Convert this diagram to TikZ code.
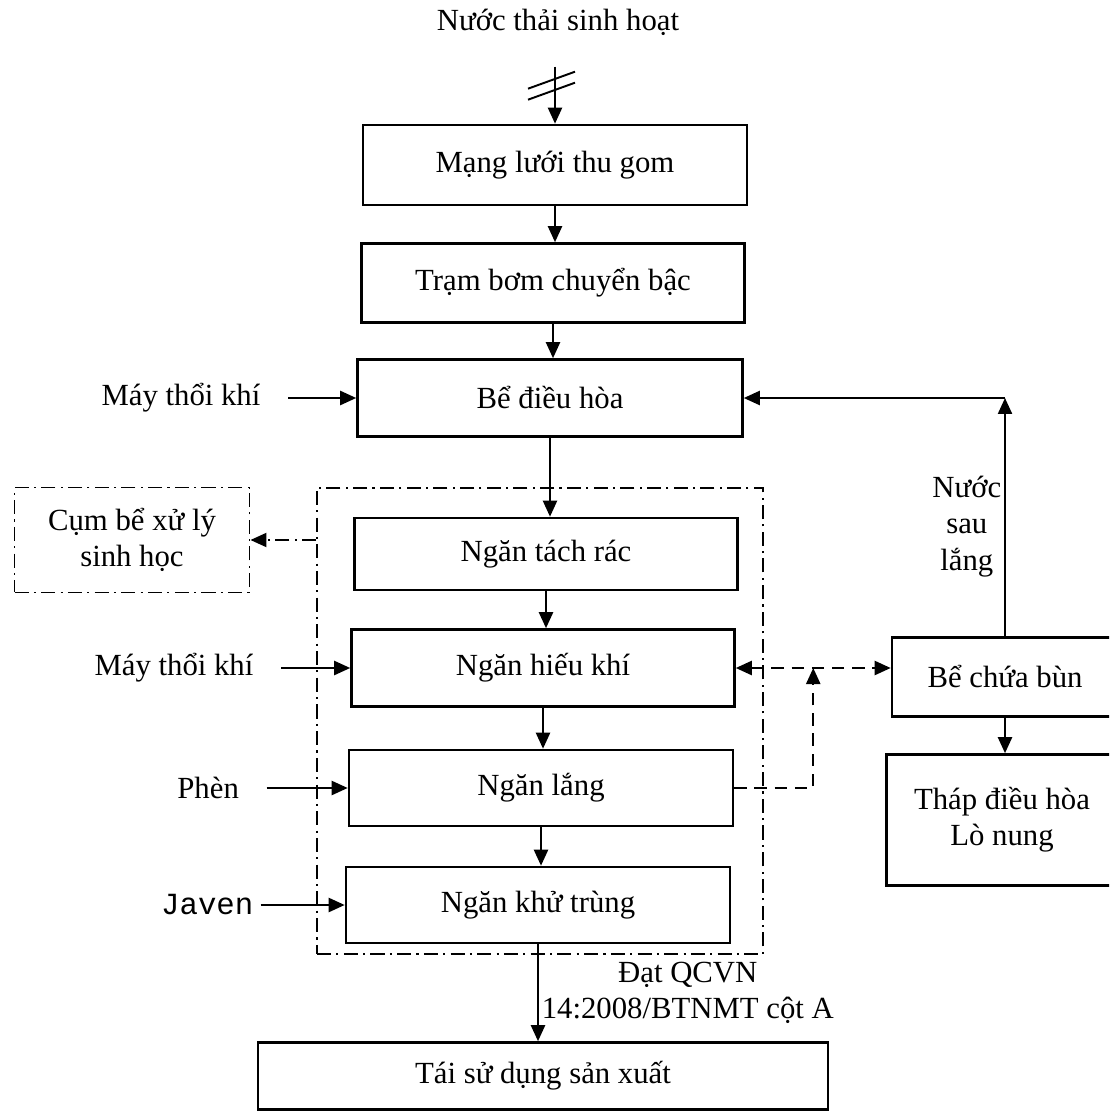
\documentclass[tikz,border=0pt]{standalone}
\usepackage{fontspec}
\setmainfont{Liberation Serif}
\setmonofont{Liberation Mono}
\usetikzlibrary{arrows.meta, positioning, calc}

\begin{document}
\begin{tikzpicture}[x=0.02cm, y=-0.02cm,
    >={Triangle[length=3.2mm, width=2.8mm]},
    box/.style={draw, line width=1.5pt, align=center, inner sep=0pt,
                font=\fontsize{17.5}{20.5}\selectfont},
    zone/.style={draw, line width=1.1pt, dash pattern=on 8pt off 3pt on 1.2pt off 3pt},
    feed/.style={font=\fontsize{17.5}{20.5}\selectfont, inner ysep=0pt, inner xsep=0.55cm},
    lbl/.style={font=\fontsize{17.5}{20.5}\selectfont, align=center, inner sep=1.5pt},
    arrow/.style={->, line width=1.3pt},
    dasharrow/.style={arrow, dash pattern=on 7pt off 4.5pt},
]
\useasboundingbox (0,0) rectangle (1109,1118);
\clip (0,0) rectangle (1109,1118);

\node[lbl] (src) at (558,22) {Nước thải sinh hoạt};
\node[box, minimum width=7.68cm, minimum height=1.6cm]  (net)  at (555,165) {Mạng lưới thu gom};
\node[box, minimum width=7.66cm, minimum height=1.58cm] (pump) at (553,283) {Trạm bơm chuyển bậc};
\node[box, minimum width=7.7cm,  minimum height=1.54cm] (eq)   at (550,398) {Bể điều hòa};

\node[zone, minimum width=8.92cm, minimum height=9.34cm] (tank) at (540,721) {};
\node[box, minimum width=7.66cm, minimum height=1.44cm] (trash)  at (546,554) {Ngăn tách rác};
\node[box, minimum width=7.66cm, minimum height=1.54cm] (aer)    at (543,668) {Ngăn hiếu khí};
\node[box, minimum width=7.68cm, minimum height=1.52cm] (settle) at (541,788) {Ngăn lắng};
\node[box, minimum width=7.68cm, minimum height=1.52cm] (disinf) at (538,905) {Ngăn khử trùng};
\node[box, minimum width=11.4cm, minimum height=1.34cm] (reuse)  at (543,1076) {Tái sử dụng sản xuất};

\node[zone, lbl, minimum width=4.7cm, minimum height=2.1cm] (bio) at (132,540) {Cụm bể xử lý\\sinh học};
\node[box, minimum width=4.52cm, minimum height=1.58cm] (sludge) at (1005,677) {Bể chứa bùn};
\node[box, minimum width=4.62cm, minimum height=2.62cm] (kiln)   at (1002,820) {Tháp điều hòa\\Lò nung};

\node[feed, left=1.36cm of eq]     (air1)  {Máy thổi khí};
\node[feed, left=1.38cm of aer]    (air2)  {Máy thổi khí};
\node[feed, left=1.62cm of settle] (alum)  {Phèn};
\node[feed, left=1.68cm of disinf, inner xsep=0.14cm,
      font=\ttfamily\fontsize{17.5}{20.5}\selectfont] (javen) {Javen};

\coordinate (inlet) at ([yshift=1.14cm]net.north);
\draw[arrow] (inlet) -- (net);
\draw[line width=1.1pt] ([shift={(-27,22)}]inlet) -- ++(47,-17)
                        ([shift={(-27,33)}]inlet) -- ++(47,-17);

\draw[arrow] (net.south)    -- (net.south |- pump.north);
\draw[arrow] (pump.south)   -- (pump.south |- eq.north);
\draw[arrow] (eq.south)     -- (eq.south |- trash.north);
\draw[arrow] (trash.south)  -- (trash.south |- aer.north);
\draw[arrow] (aer.south)    -- (aer.south |- settle.north);
\draw[arrow] (settle.south) -- (settle.south |- disinf.north);
\draw[arrow] (disinf.south) -- node[lbl, right] {Đạt QCVN\\14:2008/BTNMT cột A} (disinf.south |- reuse.north);

\draw[arrow] (air1)  -- (eq);
\draw[arrow] (air2)  -- (aer);
\draw[arrow] (alum)  -- (settle);
\draw[arrow] (javen) -- (disinf);

\draw[zone, ->] (tank.west |- bio.east) -- (bio.east);

\draw[arrow] (sludge.north) -- node[lbl, left, pos=0.46] {Nước\\sau\\lắng} (sludge.north |- eq.east);
\draw[arrow] (sludge.north |- eq.east) -- (eq.east);
\draw[arrow] (sludge.south) -- (sludge.south |- kiln.north);

\coordinate (tap) at ($(aer.east)!0.5!(aer.east -| sludge.west)$);
\draw[dasharrow, <->] (aer.east) -- (aer.east -| sludge.west);
\draw[dasharrow] (settle.east) -| (tap);
\end{tikzpicture}
\end{document}
